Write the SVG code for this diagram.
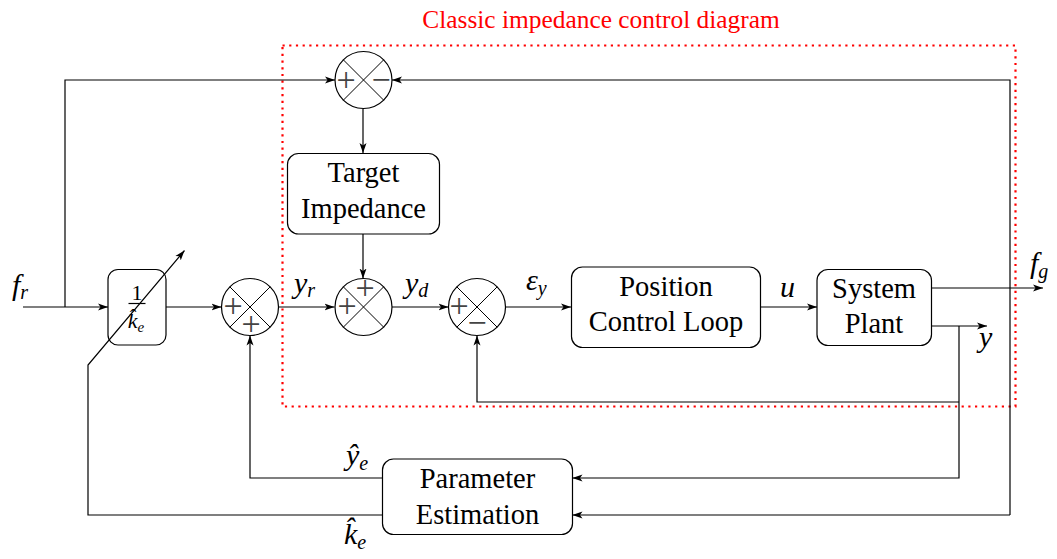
<svg xmlns="http://www.w3.org/2000/svg" width="1057" height="559" viewBox="0 0 1057 559" font-family="'Liberation Serif', 'DejaVu Serif', serif">
<style>
.ln{fill:none;stroke:#000;stroke-width:1.2}
.box{fill:#fff;stroke:#000;stroke-width:1.2}
.j{fill:#fff;stroke:#000;stroke-width:1.2}
.jx{stroke:#000;stroke-width:1}
text{font-family:'Liberation Serif','DejaVu Serif',serif}
.t{font-size:28.5px;fill:#000;text-anchor:middle}
.s{font-size:34px;fill:#444;text-anchor:middle}
.m{font-style:italic;font-size:30px;fill:#000}
.sub{font-size:20px}
.ttl{font-size:25.4px;fill:#ff0000;text-anchor:middle}
</style>
<defs>
<marker id="ar" viewBox="0 0 10 8" refX="10" refY="4" markerWidth="10" markerHeight="8" markerUnits="userSpaceOnUse" orient="auto">
<path d="M0,0.5 L10,4 L0,7.5 L2.5,4 z" fill="#000"/>
</marker>
</defs>
<rect width="1057" height="559" fill="#fff"/>
<text class="ttl" x="601" y="28">Classic impedance control diagram</text>
<rect x="282.5" y="45.5" width="733" height="361" fill="none" stroke="#ff0000" stroke-width="2.2" stroke-dasharray="2.2 4.5"/>
<g id="gain">
<rect class="box" x="108" y="269.5" width="58" height="75.5" rx="10"/>
<text x="137" y="300" style="font-size:22px;text-anchor:middle">1</text>
<path class="ln" d="M128.5,303.5 H145.5"/>
<text class="m" x="136" y="328" style="font-size:22px;text-anchor:middle">k̂<tspan style="font-size:15px" dy="4">e</tspan></text>
</g>
<g id="connectors">
<path class="ln" d="M23,307 H108" marker-end="url(#ar)"/>
<path class="ln" d="M65,307 V80 H335" marker-end="url(#ar)"/>
<path class="ln" d="M1010,515 V80 H392" marker-end="url(#ar)"/>
<path class="ln" d="M363,109 V153" marker-end="url(#ar)"/>
<path class="ln" d="M363,234 V278.5" marker-end="url(#ar)"/>
<path class="ln" d="M166,307 H221.5" marker-end="url(#ar)"/>
<path class="ln" d="M278.5,307 H334.5" marker-end="url(#ar)"/>
<path class="ln" d="M391.5,307 H448.5" marker-end="url(#ar)"/>
<path class="ln" d="M505.5,307 H571" marker-end="url(#ar)"/>
<path class="ln" d="M761,307 H817" marker-end="url(#ar)"/>
<path class="ln" d="M932,288 H1043" marker-end="url(#ar)"/>
<path class="ln" d="M932,326 H987" marker-end="url(#ar)"/>
<path class="ln" d="M959,326 V478 H572.5" marker-end="url(#ar)"/>
<path class="ln" d="M959,402 H477 V335.5" marker-end="url(#ar)"/>
<path class="ln" d="M1010,515 H572.5" marker-end="url(#ar)"/>
<path class="ln" d="M382,478 H250 V335.5" marker-end="url(#ar)"/>
<path class="ln" d="M382,515 H88 V365 L184.5,250.5" marker-end="url(#ar)"/>
</g>
<g id="sum-top">
<circle class="j" cx="363.5" cy="80" r="28.5"/>
<path class="jx" d="M343.3,59.8 L383.7,100.2 M383.7,59.8 L343.3,100.2"/>
<text class="s" x="346" y="91">+</text>
<text class="s" x="381" y="91">−</text>
</g>
<g id="target-impedance">
<rect class="box" x="287.5" y="153.5" width="152" height="80.5" rx="11"/>
<text class="t" x="363.5" y="182">Target</text>
<text class="t" x="363.5" y="218">Impedance</text>
</g>
<g id="sum-left">
<circle class="j" cx="250" cy="307" r="28.5"/>
<path class="jx" d="M229.8,286.8 L270.2,327.2 M270.2,286.8 L229.8,327.2"/>
<text class="s" x="233" y="317">+</text>
<text class="s" x="251" y="335">+</text>
</g>
<g id="sum-mid">
<circle class="j" cx="363.5" cy="307" r="28.5"/>
<path class="jx" d="M343.3,286.8 L383.7,327.2 M383.7,286.8 L343.3,327.2"/>
<text class="s" x="365" y="299">+</text>
<text class="s" x="347" y="317">+</text>
</g>
<g id="sum-err">
<circle class="j" cx="477" cy="307" r="28.5"/>
<path class="jx" d="M456.8,286.8 L497.2,327.2 M497.2,286.8 L456.8,327.2"/>
<text class="s" x="459" y="317">+</text>
<text class="s" x="477" y="334">−</text>
</g>
<g id="position-control">
<rect class="box" x="571.5" y="267" width="189" height="80.5" rx="11"/>
<text class="t" x="666" y="296">Position</text>
<text class="t" x="666" y="331">Control Loop</text>
</g>
<g id="system-plant">
<rect class="box" x="817" y="269.5" width="114.5" height="76" rx="11"/>
<text class="t" x="874" y="298">System</text>
<text class="t" x="874" y="333">Plant</text>
</g>
<g id="parameter-estimation">
<rect class="box" x="382.5" y="459" width="190" height="75.5" rx="11"/>
<text class="t" x="477.5" y="488">Parameter</text>
<text class="t" x="477.5" y="524">Estimation</text>
</g>
<g id="labels">
<text class="m" x="12" y="295">f<tspan class="sub" dy="4">r</tspan></text>
<text class="m" x="294" y="293">y<tspan class="sub" dy="4">r</tspan></text>
<text class="m" x="405" y="293">y<tspan class="sub" dy="4">d</tspan></text>
<text class="m" x="526" y="290">ε<tspan class="sub" dy="5">y</tspan></text>
<text class="m" x="780" y="297">u</text>
<text class="m" x="1030" y="273">f<tspan class="sub" dy="5">g</tspan></text>
<text class="m" x="979" y="347">y</text>
<text class="m" x="346" y="465">ŷ<tspan class="sub" dy="5">e</tspan></text>
<text class="m" x="344" y="544">k̂<tspan class="sub" dy="5">e</tspan></text>
</g>
</svg>
